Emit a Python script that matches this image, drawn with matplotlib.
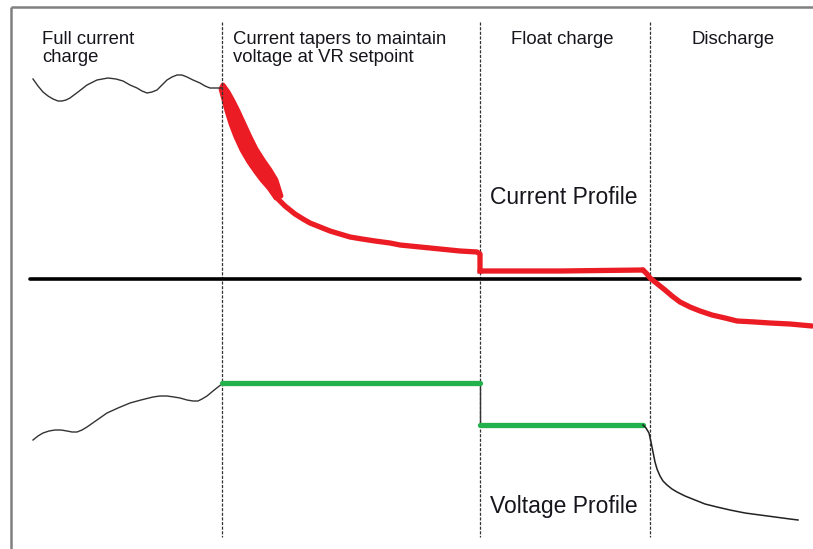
import numpy as np
import matplotlib.pyplot as plt

plt.rcParams['font.family'] = ['Liberation Sans', 'DejaVu Sans']

# chart coordinates: x = time (px-scale units), y = level (downwards)
phase_bounds = [222, 480, 650]
phase_labels = ["Full current\ncharge", "Current tapers to maintain\nvoltage at VR setpoint",
                "Float charge", "Discharge"]
label_x = [42, 233, 562, 733]
label_ha = ['left', 'left', 'center', 'center']

baseline_x = [30, 800]
baseline_y = 279

# current profile
cur_pre_x = [33, 38, 43, 48, 53, 58, 62, 66, 70, 78, 87, 97, 108, 116, 123, 130, 137, 142,
             147, 152, 157, 162, 167, 172, 177, 182, 187, 193, 200, 205, 210, 216, 222]
cur_pre_y = [79, 86, 92, 96, 99, 101, 101, 100, 98, 92, 85, 80, 78, 79, 81, 85, 88, 91,
             93, 92, 90, 85, 80, 77, 75, 75, 77, 80, 83, 86, 88, 88, 88]
cur_wedge_top_x = [223, 228, 233, 238, 244, 250, 256, 263, 270, 276, 281]
cur_wedge_top_y = [85, 92, 101, 111, 124, 137, 149, 160, 170, 180, 196]
cur_wedge_bot_x = [221, 224, 227, 231, 236, 242, 249, 256, 262, 269, 276]
cur_wedge_bot_y = [89, 100, 111, 124, 137, 150, 162, 172, 180, 188, 198]
cur_taper_x = [277, 285, 295, 303, 310, 320, 330, 340, 350, 362, 375, 390, 400, 420, 440, 460, 477, 480, 480]
cur_taper_y = [198, 206, 214, 219, 223, 227, 231, 234, 237, 239, 241, 243, 245, 247, 249, 251, 252, 254, 271]
cur_float_x = [480, 560, 643]
cur_float_y = [271, 271, 270]
cur_dis_x = [643, 647, 650, 655, 660, 665, 672, 680, 690, 700, 712, 725, 737, 755, 770, 790, 812]
cur_dis_y = [270, 274, 278, 282, 286, 290, 296, 302, 307, 311, 315, 318, 321, 322, 323, 324, 326]

# voltage profile
volt_pre_x = [33, 38, 43, 49, 55, 61, 67, 72, 77, 82, 87, 97, 107, 118, 130, 141, 153, 160,
              167, 174, 180, 187, 193, 198, 202, 207, 213, 218, 222]
volt_pre_y = [440, 436, 433, 431, 430, 430, 431, 432, 432, 430, 427, 420, 413, 408, 403, 400, 397, 396,
              396, 397, 398, 400, 401, 401, 399, 396, 391, 387, 384]
volt_hold_x = [222, 480]
volt_hold_y = [383, 383]
volt_float_x = [480, 643]
volt_float_y = [425, 425]
volt_dis_x = [643, 646, 649, 651, 653, 655, 657, 660, 663, 667, 672, 677, 685, 695, 705, 717, 730, 745, 760, 775, 790, 798]
volt_dis_y = [425, 428, 433, 442, 452, 462, 469, 476, 481, 485, 489, 492, 496, 500, 504, 507, 510, 513, 515, 517, 519, 520]

red = '#ec1c24'
green = '#22b14c'
txt = '#15151c'

fig = plt.figure(figsize=(8.13, 5.49), dpi=100)
ax = fig.add_axes([0, 0, 1, 1])
ax.set_xlim(0, 813)
ax.set_ylim(549, 0)
ax.axis('off')

# frame (left + top only)
ax.plot([11, 11], [549, 7], color='#808080', lw=1.8, solid_capstyle='butt')
ax.plot([11, 813], [7, 7], color='#808080', lw=1.8, solid_capstyle='butt')

for xb in phase_bounds:
    ax.plot([xb, xb], [22, 537], color='#333333', lw=0.9, linestyle=(0, (2.5, 1.2)))

for lab, lx, ha in zip(phase_labels, label_x, label_ha):
    ax.text(lx, 30.5, lab, ha=ha, va='top', fontsize=13.3, color=txt, linespacing=1.12)

ax.plot(baseline_x, [baseline_y, baseline_y], color='black', lw=2.6, solid_capstyle='round')

# current
ax.plot(cur_pre_x, cur_pre_y, color='#333333', lw=1.0)
wx = np.concatenate([cur_wedge_top_x, cur_wedge_bot_x[::-1]])
wy = np.concatenate([cur_wedge_top_y, cur_wedge_bot_y[::-1]])
ax.fill(wx, wy, color=red, lw=3.5, ec=red, joinstyle='round')
ax.plot(cur_taper_x, cur_taper_y, color=red, lw=3.8, solid_joinstyle='round')
ax.plot(cur_float_x, cur_float_y, color=red, lw=3.8, solid_capstyle='round')
ax.plot(np.array(cur_dis_x[:10]) + 1, np.array(cur_dis_y[:10]) + 1.5, color='#333333', lw=1.0)
ax.plot(cur_dis_x, cur_dis_y, color=red, lw=3.8, solid_capstyle='round')

# voltage
ax.plot(volt_pre_x, volt_pre_y, color='#333333', lw=1.0)
ax.plot([volt_hold_x[1], volt_float_x[0]], [volt_hold_y[1], volt_float_y[0]], color='#333333', lw=1.0)
ax.plot(volt_hold_x, volt_hold_y, color=green, lw=3.8, solid_capstyle='round')
ax.plot(volt_float_x, volt_float_y, color=green, lw=3.8, solid_capstyle='round')
ax.plot(volt_dis_x, volt_dis_y, color='#222222', lw=1.1)

ax.text(564, 198, "Current Profile", ha='center', va='center', fontsize=16.5, color=txt)
ax.text(564, 506, "Voltage Profile", ha='center', va='center', fontsize=16.5, color=txt)

fig.savefig("out.png", dpi=100)
